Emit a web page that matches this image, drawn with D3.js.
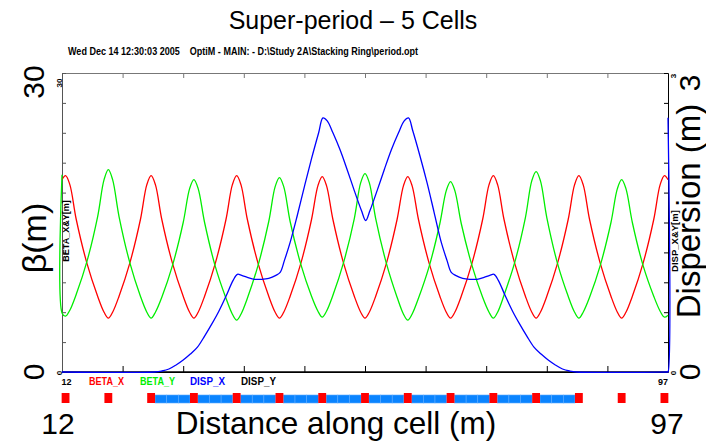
<!DOCTYPE html>
<html>
<head>
  <meta charset="utf-8" />
  <title>Super-period - 5 Cells</title>
  <script src="https://cdn.jsdelivr.net/npm/d3@7"></script>
  <style>
  body { margin: 0; background: #fff; }
  svg text { font-family: "Liberation Sans", Arial, sans-serif; white-space: pre; }
  </style>
</head>
<body>
<script>
// s range of the plot (m)
var sRange = [12, 97];
var betaRange = [0, 30];
var dispRange = [0, 3];

var xTicks = [12, 20.5, 29, 37.5, 46, 54.5, 63, 71.5, 80, 88.5, 97];
var betaTicks = [0, 3, 6, 9, 12, 15, 18, 21, 24, 27, 30];
var dispTicks = [0, 0.3, 0.6, 0.9, 1.2, 1.5, 1.8, 2.1, 2.4, 2.7, 3];

// [s, beta]
var betaX = [
  [12, 19.3], [12.5, 19.7], [13.1, 18.8], [14, 15.3], [15.5, 10.9], [17, 7.6], [17.9, 6.0], [18.5, 5.4],
  [19.1, 6.0], [20, 7.6], [21.5, 10.9], [23, 15.3], [23.9, 18.8], [24.5, 19.7],
  [25.1, 18.8], [26, 15.3], [27.5, 10.9], [29, 7.6], [29.9, 6.0], [30.5, 5.4],
  [31.1, 6.0], [32, 7.6], [33.5, 10.9], [35, 15.3], [35.9, 18.8], [36.5, 19.7],
  [37.1, 18.8], [38, 15.3], [39.5, 10.9], [41, 7.6], [41.9, 6.0], [42.5, 5.4],
  [43.1, 6.0], [44, 7.6], [45.5, 10.9], [47, 15.3], [47.9, 18.7], [48.5, 19.6],
  [49.1, 18.7], [50, 15.3], [51.5, 10.9], [53, 7.6], [53.9, 6.0], [54.5, 5.4],
  [55.1, 6.0], [56, 7.6], [57.5, 10.9], [59, 15.3], [59.9, 18.7], [60.5, 19.6],
  [61.1, 18.7], [62, 15.3], [63.5, 10.9], [65, 7.6], [65.9, 6.0], [66.5, 5.4],
  [67.1, 6.0], [68, 7.6], [69.5, 10.9], [71, 15.3], [71.9, 18.8], [72.5, 19.7],
  [73.1, 18.8], [74, 15.3], [75.5, 10.9], [77, 7.6], [77.9, 6.0], [78.5, 5.4],
  [79.1, 6.0], [80, 7.6], [81.5, 10.9], [83, 15.3], [83.9, 18.8], [84.5, 19.7],
  [85.1, 18.8], [86, 15.3], [87.5, 10.9], [89, 7.6], [89.9, 6.0], [90.5, 5.4],
  [91.1, 6.0], [92, 7.6], [93.5, 10.9], [95, 15.3], [95.9, 18.8], [96.5, 19.7], [97, 19.3]
];

var betaY = [
  [12, 19.8], [12.02, 5.9], [12.5, 5.6], [13.1, 6.2], [14, 7.8], [15.5, 11.1], [17, 15.6], [17.9, 19.3], [18.5, 20.3],
  [19.1, 19.3], [20, 15.6], [21.5, 11.0], [23, 7.6], [23.9, 6.0], [24.5, 5.4],
  [25.1, 6.0], [26, 7.5], [27.5, 10.7], [29, 15.0], [29.9, 18.4], [30.5, 19.3],
  [31.1, 18.4], [32, 15.0], [33.5, 10.6], [35, 7.4], [35.9, 5.8], [36.5, 5.2],
  [37.1, 5.8], [38, 7.4], [39.5, 10.7], [41, 15.1], [41.9, 18.6], [42.5, 19.5],
  [43.1, 18.6], [44, 15.1], [45.5, 10.8], [47, 7.6], [47.9, 6.1], [48.5, 5.5],
  [49.1, 6.1], [50, 7.7], [51.5, 11.0], [53, 15.4], [53.9, 19.0], [54.5, 19.9],
  [55.1, 19.0], [56, 15.4], [57.5, 10.9], [59, 7.5], [59.9, 5.8], [60.5, 5.2],
  [61.1, 5.8], [62, 7.4], [63.5, 10.6], [65, 14.9], [65.9, 18.2], [66.5, 19.1],
  [67.1, 18.2], [68, 14.9], [69.5, 10.7], [71, 7.5], [71.9, 6.0], [72.5, 5.4],
  [73.1, 6.0], [74, 7.7], [75.5, 11.0], [77, 15.5], [77.9, 19.2], [78.5, 20.1],
  [79.1, 19.2], [80, 15.5], [81.5, 10.9], [83, 7.6], [83.9, 6.0], [84.5, 5.4],
  [85.1, 6.0], [86, 7.5], [87.5, 10.7], [89, 15.0], [89.9, 18.4], [90.5, 19.3],
  [91.1, 18.4], [92, 15.0], [93.5, 10.7], [95, 7.6], [95.9, 6.1], [96.5, 5.5], [97, 5.7]
];

// [s, D] in m
var dispX = [
  [12, 0], [25, 0], [26, 0.01], [27, 0.03], [28, 0.07], [29, 0.12], [30, 0.18], [31, 0.25], [32, 0.36],
  [33, 0.48], [34, 0.61], [35, 0.76], [36, 0.92], [36.6, 0.98], [37.2, 0.97], [38, 0.95], [39, 0.93],
  [40, 0.93], [41, 0.94], [42, 0.97], [42.6, 1.0], [43.2, 1.12], [44, 1.3], [45, 1.57], [46, 1.86],
  [47, 2.14], [48, 2.4], [48.6, 2.55], [49.2, 2.52], [50, 2.4], [51, 2.23], [52, 2.03], [53, 1.82],
  [54, 1.62], [54.6, 1.52], [55.2, 1.62], [56.2, 1.82], [57.2, 2.03], [58.2, 2.23], [59.2, 2.4],
  [60, 2.52], [60.6, 2.55], [61.2, 2.42], [62.2, 2.17], [63.2, 1.9], [64.2, 1.6], [65.2, 1.3],
  [66, 1.12], [66.6, 1.0], [67.2, 0.97], [68.2, 0.94], [69.2, 0.93], [70.2, 0.93], [71.2, 0.95],
  [72, 0.97], [72.6, 0.98], [73.2, 0.92], [74.2, 0.76], [75.2, 0.61], [76.2, 0.48], [77.2, 0.36],
  [78.2, 0.25], [79.2, 0.18], [80.2, 0.12], [81.2, 0.07], [82.2, 0.03], [83.2, 0.01], [84.2, 0],
  [96.9, 0], [97, 0], [97, 2.55]
];
var dispY = [[12, 0], [97, 0]];

// lattice: quad centres (m) and bend gaps [from, to] (m)
var quadCentres = [12.5, 18.5, 24.5, 30.5, 36.5, 42.5, 48.5, 54.5, 60.5, 66.5, 72.5, 78.5, 84.5, 90.5, 96.5];
var quadLength = 1.1;
var bendGaps = [
  [25.05, 29.95], [31.05, 35.95], [37.05, 41.95], [43.05, 47.95], [49.05, 53.95],
  [55.05, 59.95], [61.05, 65.95], [67.05, 71.95], [73.05, 77.95], [79.05, 83.95]
];
var piecesPerGap = 3;

var legendNames = ["BETA_X", "BETA_Y", "DISP_X", "DISP_Y"];
var legendColors = ["#ff0000", "#00ee00", "#0000ff", "#000000"];

var W = 706, H = 443;
var svg = d3.select("body").append("svg")
  .attr("width", W)
  .attr("height", H);

var x = d3.scaleLinear().domain(sRange).range([62, 668]);
var yB = d3.scaleLinear().domain(betaRange).range([372, 73]);
var yD = d3.scaleLinear().domain(dispRange).range([372, 73]);

// title + header line
svg.append("text").attr("x", 353).attr("y", 29).attr("text-anchor", "middle")
  .style("font-size", "25px").text("Super-period \u2013 5 Cells");
svg.append("text").attr("x", 68).attr("y", 55)
  .attr("textLength", 350).attr("lengthAdjust", "spacingAndGlyphs")
  .style("font-size", "10px").style("font-weight", "bold")
  .text("Wed Dec 14 12:30:03 2005    OptiM - MAIN: - D:\\Study 2A\\Stacking Ring\\period.opt");

// axes (ticks pointing inward)
svg.append("g").attr("transform", "translate(0,73)")
  .call(d3.axisTop(x).tickValues(xTicks).tickSize(-5).tickSizeOuter(0).tickFormat(""))
  .call(g => g.selectAll("path,line").attr("stroke", "#777"));
svg.append("g").attr("transform", "translate(0,372)")
  .call(d3.axisBottom(x).tickValues(xTicks).tickSize(-6).tickSizeOuter(0).tickFormat(""));
svg.append("g").attr("transform", "translate(62,0)")
  .call(d3.axisLeft(yB).tickValues(betaTicks).tickSize(-4).tickSizeOuter(0).tickFormat(""))
  .call(g => g.selectAll("path,line").attr("stroke", "#555"));
svg.append("g").attr("transform", "translate(668,0)")
  .call(d3.axisRight(yD).tickValues(dispTicks).tickSize(-4).tickSizeOuter(0).tickFormat(""));

// curves
var lineB = d3.line().x(d => x(d[0])).y(d => yB(d[1])).curve(d3.curveCatmullRom.alpha(0.5));
var lineD = d3.line().x(d => x(d[0])).y(d => yD(d[1])).curve(d3.curveCatmullRom.alpha(0.5));

svg.append("path").datum(dispY).attr("d", lineD)
  .attr("fill", "none").attr("stroke", legendColors[3]).attr("stroke-width", 1.3);
svg.append("path").datum(betaX).attr("d", lineB)
  .attr("fill", "none").attr("stroke", legendColors[0]).attr("stroke-width", 1.3);
svg.append("path").datum(betaY).attr("d", lineB)
  .attr("fill", "none").attr("stroke", legendColors[1]).attr("stroke-width", 1.3);
svg.append("path").datum(dispX).attr("d", lineD)
  .attr("fill", "none").attr("stroke", legendColors[2]).attr("stroke-width", 1.3);

// small OptiM labels
function smallRot(tx, ty, size, txt) {
  svg.append("text").attr("transform", "translate(" + tx + "," + ty + ") rotate(-90)")
    .attr("text-anchor", "middle").style("font-size", size + "px").style("font-weight", "bold").text(txt);
}
smallRot(62, 83, 8, "30");
smallRot(62, 373, 8, "0");
smallRot(676, 76, 8, "3");
smallRot(676, 373, 8, "0");
smallRot(68.5, 231, 9, "BETA_X&Y[m]");
smallRot(678, 241, 9.5, "DISP_X&Y[m]");

svg.append("text").attr("x", 66.5).attr("y", 385).attr("text-anchor", "middle")
  .style("font-size", "9px").style("font-weight", "bold").text(sRange[0]);
svg.append("text").attr("x", 663).attr("y", 385).attr("text-anchor", "middle")
  .style("font-size", "9px").style("font-weight", "bold").text(sRange[1]);

var legendX = [89, 140, 190, 241];
svg.selectAll("text.legend").data(legendNames).enter().append("text")
  .attr("class", "legend")
  .attr("x", (d, i) => legendX[i]).attr("y", 385)
  .attr("textLength", 35).attr("lengthAdjust", "spacingAndGlyphs")
  .style("font-size", "10.5px").style("font-weight", "bold")
  .style("fill", (d, i) => legendColors[i]).text(d => d);

// lattice strip
var strip = svg.append("g");
bendGaps.forEach(function (g) {
  var step = (g[1] - g[0]) / piecesPerGap;
  for (var k = 0; k < piecesPerGap; k++) {
    strip.append("rect")
      .attr("x", x(g[0] + k * step)).attr("y", 395)
      .attr("width", x(g[0] + (k + 1) * step) - x(g[0] + k * step)).attr("height", 8)
      .attr("fill", "#0a84ff").attr("stroke", "#5aaaff").attr("stroke-width", 0.6);
  }
});
strip.selectAll("rect.quad").data(quadCentres).enter().append("rect")
  .attr("class", "quad")
  .attr("x", d => x(d - quadLength / 2)).attr("y", 393)
  .attr("width", d => x(d + quadLength / 2) - x(d - quadLength / 2)).attr("height", 10)
  .attr("fill", "#ff0000");

// big annotation labels
function bigRot(tx, ty, size, txt) {
  svg.append("text").attr("transform", "translate(" + tx + "," + ty + ") rotate(-90)")
    .attr("text-anchor", "middle").style("font-size", size + "px").text(txt);
}
bigRot(43.5, 82, 30, "30");
bigRot(43.5, 372, 30, "0");
bigRot(46, 238, 34, "\u03b2(m)");
bigRot(700, 83, 30, "3");
bigRot(700, 372, 30, "0");
bigRot(700, 211, 33, "Dispersion (m)");

svg.append("text").attr("x", 58).attr("y", 433.5).attr("text-anchor", "middle")
  .style("font-size", "30px").text(sRange[0]);
svg.append("text").attr("x", 336).attr("y", 433.5).attr("text-anchor", "middle")
  .style("font-size", "31.5px").text("Distance along cell (m)");
svg.append("text").attr("x", 667).attr("y", 433.5).attr("text-anchor", "middle")
  .style("font-size", "30px").text(sRange[1]);
</script>
</body>
</html>
